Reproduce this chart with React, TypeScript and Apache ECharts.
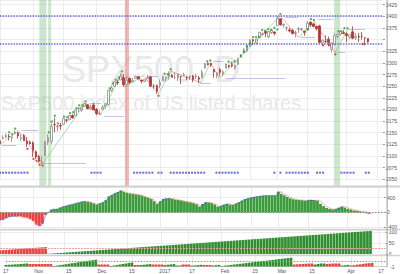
import React, { useEffect, useRef } from 'react';
import * as echarts from 'echarts';

// ---------- data ----------
const HOLIDAYS = ['2016-11-24', '2016-12-26', '2017-01-02', '2017-01-16', '2017-02-20'];
const SLOT_COUNT = 128; // Oct 17 2016 .. Apr 19 2017 (incl. future slots)

// [open, close, low, high]
const ohlc: number[][] = [
  [2132.9, 2126.5, 2124.4, 2135.6], [2138.3, 2139.6, 2135.5, 2144.4], [2140.8, 2144.3, 2138.2, 2148.4],
  [2142.5, 2141.3, 2133.4, 2147.2], [2139.4, 2141.2, 2130.1, 2142.6], [2148.5, 2151.3, 2146.9, 2154.8],
  [2149.7, 2143.2, 2137.4, 2151.4], [2136.9, 2139.4, 2131.6, 2145.7], [2144.1, 2133.0, 2132.5, 2147.1],
  [2132.2, 2126.4, 2119.4, 2140.7], [2129.8, 2126.2, 2125.5, 2133.3],
  [2128.7, 2111.7, 2097.9, 2131.5], [2109.4, 2097.9, 2094.0, 2111.8], [2098.8, 2088.7, 2085.2, 2102.6],
  [2083.8, 2085.2, 2083.8, 2099.1], [2100.6, 2131.5, 2100.6, 2132.0], [2129.9, 2139.6, 2123.6, 2146.9],
  [2131.6, 2163.3, 2125.4, 2170.1], [2167.5, 2167.4, 2151.2, 2182.3], [2162.7, 2164.5, 2152.5, 2165.9],
  [2165.6, 2164.2, 2156.1, 2171.4], [2168.3, 2180.4, 2166.4, 2180.8], [2177.5, 2176.9, 2172.2, 2179.2],
  [2178.6, 2187.1, 2176.6, 2188.1], [2186.9, 2181.9, 2180.4, 2189.9], [2186.4, 2198.2, 2186.4, 2198.7],
  [2201.6, 2202.9, 2194.5, 2204.8], [2198.6, 2204.7, 2194.5, 2204.7], [2206.3, 2213.4, 2206.3, 2213.4],
  [2210.2, 2201.7, 2200.4, 2211.1], [2200.8, 2204.7, 2199.0, 2210.5], [2209.6, 2198.8, 2198.8, 2214.1],
  [2200.2, 2191.1, 2187.4, 2202.6], [2191.1, 2191.9, 2188.4, 2197.9], [2200.6, 2204.7, 2199.0, 2209.4],
  [2207.3, 2212.2, 2202.2, 2212.8], [2210.7, 2241.4, 2208.9, 2241.6], [2241.1, 2246.2, 2237.6, 2251.7],
  [2249.7, 2259.5, 2249.2, 2259.8], [2258.8, 2257.0, 2252.4, 2264.0], [2263.3, 2271.7, 2263.3, 2277.5],
  [2268.4, 2253.3, 2248.4, 2276.2], [2253.8, 2262.0, 2253.8, 2272.1], [2266.8, 2258.1, 2254.2, 2268.1],
  [2259.2, 2262.5, 2258.2, 2267.5], [2266.5, 2270.8, 2266.2, 2272.6], [2270.5, 2265.2, 2265.2, 2271.2],
  [2262.9, 2261.0, 2256.1, 2263.2], [2260.3, 2263.8, 2258.8, 2263.8], [2266.2, 2268.9, 2266.2, 2273.8],
  [2270.2, 2249.9, 2249.1, 2271.3], [2249.5, 2249.3, 2244.6, 2254.5], [2251.6, 2238.8, 2233.6, 2253.6],
  [2251.6, 2257.8, 2245.1, 2263.9], [2261.6, 2270.8, 2261.6, 2272.8], [2268.2, 2269.0, 2260.5, 2271.5],
  [2271.1, 2277.0, 2264.1, 2282.1], [2273.6, 2268.9, 2268.8, 2275.5], [2268.6, 2268.9, 2265.3, 2279.3],
  [2268.5, 2275.3, 2260.8, 2275.3], [2271.1, 2270.4, 2254.3, 2271.8], [2272.7, 2274.6, 2271.5, 2278.7],
  [2269.1, 2267.9, 2262.8, 2272.1], [2269.1, 2271.9, 2263.4, 2272.0], [2271.9, 2263.7, 2258.4, 2274.3],
  [2270.0, 2271.3, 2265.0, 2277.0], [2267.8, 2265.2, 2257.0, 2271.8], [2267.9, 2280.1, 2266.7, 2284.6],
  [2288.9, 2298.4, 2288.9, 2299.6], [2298.6, 2296.7, 2294.1, 2301.0], [2299.0, 2294.7, 2291.6, 2299.0],
  [2286.0, 2280.9, 2268.0, 2286.0], [2274.0, 2278.9, 2267.2, 2279.1],
  [2285.6, 2279.6, 2272.4, 2289.1], [2276.7, 2280.9, 2271.7, 2284.0], [2288.5, 2297.4, 2287.9, 2298.3],
  [2294.3, 2292.6, 2288.6, 2296.2], [2295.9, 2293.1, 2290.2, 2299.4], [2289.6, 2294.7, 2285.4, 2295.9],
  [2296.7, 2307.9, 2296.6, 2311.1], [2312.3, 2316.1, 2311.1, 2319.2], [2321.7, 2328.3, 2321.4, 2331.6],
  [2326.1, 2337.6, 2322.2, 2337.6], [2335.6, 2349.3, 2334.8, 2351.3], [2349.6, 2347.2, 2338.9, 2351.3],
  [2343.0, 2351.2, 2339.6, 2351.2], [2354.9, 2365.4, 2354.9, 2366.7], [2361.1, 2362.8, 2358.3, 2365.1],
  [2367.5, 2363.8, 2355.1, 2368.3], [2355.7, 2367.3, 2352.9, 2367.3], [2365.2, 2369.8, 2361.9, 2371.5],
  [2366.1, 2363.6, 2359.0, 2367.8],
  [2380.1, 2396.0, 2380.1, 2401.0], [2394.8, 2381.9, 2380.2, 2394.8], [2380.9, 2383.1, 2375.4, 2383.9],
  [2375.2, 2375.3, 2368.0, 2378.8], [2370.7, 2368.4, 2365.5, 2375.1], [2369.8, 2363.0, 2361.0, 2373.1],
  [2363.5, 2364.9, 2354.5, 2369.1], [2372.5, 2372.6, 2364.2, 2376.9], [2371.6, 2373.5, 2368.5, 2374.4],
  [2368.6, 2365.5, 2358.2, 2368.6], [2370.3, 2385.3, 2368.9, 2390.0], [2387.7, 2381.4, 2377.2, 2388.1],
  [2383.7, 2378.3, 2377.6, 2385.7], [2378.2, 2373.5, 2369.7, 2379.6], [2379.3, 2344.0, 2341.9, 2381.9],
  [2343.0, 2348.5, 2337.0, 2350.1], [2346.0, 2345.9, 2342.1, 2358.9], [2350.4, 2344.0, 2335.7, 2356.2],
  [2329.1, 2341.6, 2322.3, 2344.9], [2339.8, 2358.6, 2337.6, 2363.8], [2356.5, 2361.1, 2352.9, 2363.4],
  [2361.3, 2368.1, 2358.6, 2370.4], [2364.8, 2362.7, 2362.6, 2370.4],
  [2362.3, 2358.8, 2344.7, 2365.9], [2354.8, 2360.2, 2350.7, 2360.5], [2366.6, 2353.0, 2350.5, 2378.4],
  [2353.8, 2357.5, 2348.9, 2364.2], [2356.6, 2355.5, 2344.7, 2363.8], [2357.2, 2357.1, 2350.0, 2366.4],
  [2353.9, 2353.8, 2337.3, 2355.2], [2352.2, 2344.9, 2343.2, 2352.7],
];

const tickDates = ['2016-10-17', '2016-11-01', '2016-11-15', '2016-12-01', '2016-12-15', '2017-01-03',
  '2017-01-17', '2017-02-01', '2017-02-15', '2017-03-01', '2017-03-15', '2017-04-03', '2017-04-17'];
const tickTexts = ['17', 'Nov', '15', 'Dec', '15', '2017', '17', 'Feb', '15', 'Mar', '15', 'Apr', '17'];

const resistanceLevels = [2401, 2341];

// zigzag swing points
const pivotIdx = [0, 6, 14, 28, 33, 40, 41, 47, 52, 56, 66, 69, 72, 92, 98, 103, 110, 114];
const pivotVal = [2124.4, 2154.8, 2083.8, 2213.4, 2187.4, 2277.5, 2248.4, 2272.6, 2233.6, 2282.1,
  2257.0, 2301.0, 2267.2, 2401.0, 2354.5, 2389.0, 2322.3, 2370.4];

// horizontal swing levels
const levelFrom = [0.5, 7, 14.2, 29.3, 34.2, 48.5, 65.9, 70.1, 74, 93.6, 98.5, 104.4, 110.6, 114.2];
const levelTo = [5.4, 12.6, 28.3, 33.2, 40.7, 51.8, 69.1, 73.4, 93.6, 97.6, 103.4, 109.3, 113.2, 119.8];
const levelVal = [2124, 2155, 2084, 2213, 2185, 2272, 2257, 2303, 2268, 2398, 2355, 2393, 2323, 2372];

const greenDotIdx = [3, 4, 5, 16, 17, 18, 19, 21, 22, 23, 24, 25, 26, 27, 28, 36, 37, 38, 39, 40, 54, 55, 56,
  68, 69, 75, 76, 77, 79, 80, 81, 82, 83, 84, 85, 86, 87, 88, 89, 90, 91, 92, 101, 102, 103, 111, 112, 113, 114];
const redDotIdx = [9, 11, 12, 13, 14, 52, 106, 108, 110, 119];

const markerRanges = [[0, 9], [30, 33], [44, 50], [52, 53], [56, 67], [71, 78], [90, 90], [92, 92],
  [94, 101], [104, 106], [112, 116], [120, 121]];

const bandFrom = [12.9, 15.8, 41.0, 109.6];
const bandTo = [15.2, 16.8, 42.3, 111.6];
const bandKind = ['up', 'up', 'down', 'up'];

const osc = [-200, -190, -150, -115, -105, -100, -99, -110, -130, -141, -180, -231, -328, -365, -300, -60,
  10, 75, 88, 99, 130, 160, 180, 205, 220, 245, 265, 285, 300, 290, 272, 245, 215, 240, 272, 330,
  430, 470, 515, 550, 587, 555, 524, 510, 498, 485, 473, 450, 420, 395, 360, 300, 231, 300, 364, 372,
  382, 365, 345, 335, 322, 300, 285, 270, 250, 220, 160, 230, 275, 270, 250, 215, 160, 175, 210, 231,
  215, 204, 240, 275, 320, 360, 380, 405, 415, 430, 440, 450, 453, 453, 453, 455, 560, 500, 460, 420,
  380, 355, 342, 335, 328, 320, 330, 338, 335, 320, 231, 170, 120, 95, 82, 95, 130, 160, 130, 98,
  80, 55, 45, 35, 15, -20, -35];

const counterDown = [17, 18, 19, 20, 21, 22, 23, 24, 25, 26, 27, 28, 29, 30, 31, 32];
const counterUp = [1, 2, 3, 4, 5, 6, 7, 8, 9, 10, 11, 12, 13, 14, 15, 16, 17, 18, 19, 20, 21, 22, 23, 24, 25,
  26, 27, 28, 29, 30, 31, 32, 33, 34, 35, 36, 37, 38, 39, 40, 41, 42, 43, 44, 45, 46, 47, 48, 49, 50,
  51, 52, 53, 54, 55, 56, 57, 58, 59, 60, 61, 62, 63, 64, 65, 66, 67, 68, 69, 70, 71, 72, 73, 74, 75,
  76, 77, 78, 79, 80, 81, 82, 83, 84, 85, 86, 87, 88, 89, 90, 91, 92, 93, 94, 95, 96, 97, 98, 99, 100,
  101, 102, 103, 104, 105, 106, 107];
const counterLevel = 25;

const regime = [0.15, 0.17, 0.19, 0.21, 0.23, 0.25, 0.27, 0.3,
  -0.25, -0.25, -0.25, -0.25, -0.25, -0.25, -0.25, -0.25,
  0.05, 0.09, 0.14, 0.18, 0.23, 0.27, 0.32, 0.36, 0.41, 0.45, 0.5, 0.54, 0.59, 0.63, 0.68,
  -0.2, -0.2, -0.2, -0.2, 0.05, 0.1, 0.15, 0.2, 0.25, 0.3, 0.35, 0.4, -0.15, -0.15,
  0.15, 0.18, 0.21, 0.24, -0.2, -0.2, -0.2, -0.2, 0.15, 0.18, 0.21, 0.24, 0.1, 0.1,
  -0.2, -0.2, -0.2, 0.08, 0.11, 0.14, 0.17, -0.15, -0.15, -0.15, 0.1, 0.13, 0.16,
  0.05, 0.09, 0.12, 0.16, 0.2, 0.23, 0.27, 0.3, 0.34, 0.38, 0.41, 0.45, 0.48, 0.52, 0.56, 0.59,
  0.63, 0.66, 0.7, 0.74, 0.77, 0.81, 0.84, 0.88,
  -0.2, -0.22, -0.24, -0.26, -0.28, -0.3, -0.3, 0.2, 0.25, 0.3, 0.3, -0.25, -0.28, -0.3, -0.3, -0.3,
  0.1, 0.13, 0.16, -0.1, -0.14, -0.18, -0.22, -0.26, -0.3, -0.33, -0.36];
const regimeLevel = 0.55;
const regimeAxisText = '-1';

// ---------- style constants ----------
const GL = -1.53;
const GR = 12.9;
const DOT_GAP = 4;
const MARKER_ROW = 0.0715;
const FONT = 'Liberation Sans';
const UP_GREEN = '#3c9c3c';
const DOWN_RED = '#ef4040';

function buildDates(): string[] {
  const out: string[] = [];
  const d = new Date(Date.UTC(2016, 9, 17));
  while (out.length < SLOT_COUNT) {
    const wd = d.getUTCDay();
    const s = d.toISOString().slice(0, 10);
    if (wd !== 0 && wd !== 6 && !HOLIDAYS.includes(s)) out.push(s);
    d.setUTCDate(d.getUTCDate() + 1);
  }
  return out;
}

function buildOption() {
  const dates = buildDates();
  const tickSet = new Set(tickDates);
  const tickMap: Record<string, string> = {};
  tickDates.forEach((d, i) => (tickMap[d] = tickTexts[i]));
  const showTick = (_i: number, v: string) => tickSet.has(v);
  const lastClose = ohlc[ohlc.length - 1][1];

  const zig = pivotIdx.slice(1).map((idx, k) => {
    const a = pivotVal[k];
    const b = pivotVal[k + 1];
    return {
      coords: [[pivotIdx[k], a], [idx, b]],
      lineStyle: { color: b > a ? '#4caf50' : '#e0504a' },
    };
  });
  const levels = levelVal.map((v, k) => ({ coords: [[levelFrom[k], v], [levelTo[k], v]] }));
  const greenDots = greenDotIdx.map((i) => [i, ohlc[i][3] + DOT_GAP]);
  const redDots = redDotIdx.map((i) => [i, ohlc[i][2] - DOT_GAP]);
  const markers: number[][] = [];
  markerRanges.forEach(([a, b]) => {
    for (let i = a; i <= b; i++) markers.push([i, MARKER_ROW]);
  });
  const bands = bandFrom.map((f, k) => [
    { xAxis: f, itemStyle: { color: bandKind[k] === 'up' ? 'rgba(140,200,140,0.45)' : 'rgba(240,130,130,0.6)' } },
    { xAxis: bandTo[k] },
  ]);
  const oscSeg = osc.slice(1).map((v, k) => ({
    coords: [[k, osc[k]], [k + 1, v]],
    lineStyle: { color: v >= osc[k] ? '#3a5fd0' : '#f08a7a' },
  }));
  const cDown = dates.map((_, i) => (i < counterDown.length ? counterDown[i] : '-'));
  const cUp = dates.map((_, i) =>
    i >= counterDown.length && i - counterDown.length < counterUp.length ? counterUp[i - counterDown.length] : '-');
  const rUp = regime.map((v) => (v > 0 ? v : '-'));
  const rDn = regime.map((v) => (v < 0 ? -v : '-'));

  const catAxis = (gridIndex: number, labels: boolean) => ({
    type: 'category',
    gridIndex,
    data: dates,
    boundaryGap: false,
    axisLine: { show: labels, lineStyle: { color: '#cfcfcf' } },
    axisTick: { show: false },
    axisLabel: labels
      ? { show: true, interval: showTick, formatter: (v: string) => tickMap[v] ?? '', fontSize: 5, color: '#555', margin: 2, fontFamily: FONT }
      : { show: false },
    splitLine: { show: true, interval: showTick, lineStyle: { color: '#ececec', width: 1 } },
  });
  const valX = (gridIndex: number) => ({ type: 'value', gridIndex, min: 0, max: SLOT_COUNT - 1, show: false });
  const rightAxis = (gridIndex: number, min: number, max: number, interval: number, fmt?: (v: number) => string) => ({
    type: 'value',
    gridIndex,
    position: 'right',
    min,
    max,
    interval,
    axisLine: { show: false },
    axisTick: { show: true, length: 2, lineStyle: { color: '#999' } },
    axisLabel: { fontSize: 5, color: '#555', margin: 3, showMaxLabel: false, fontFamily: FONT, formatter: fmt },
    splitLine: { show: true, lineStyle: { color: '#ececec', width: 1 } },
  });

  return {
    animation: false,
    backgroundColor: '#ffffff',
    textStyle: { fontFamily: FONT },
    grid: [
      { left: GL, right: GR, top: 0, height: 179.3 },
      { left: GL, right: GR, top: 0, height: 179.3 },
      { left: GL, right: GR, top: 0, height: 186 },
      { left: GL, right: GR, top: 187.5, height: 39.9 },
      { left: GL, right: GR, top: 230.5, height: 23.5 },
      { left: GL, right: GR, top: 256.5, height: 10 },
      { left: GL, right: GR, top: 187.5, height: 39.9 },
    ],
    xAxis: [catAxis(0, false), valX(1), valX(2), catAxis(3, false), catAxis(4, false), catAxis(5, true), valX(6)],
    yAxis: [
      rightAxis(0, 2050, 2435, 25, (v: number) => (Math.abs(v - lastClose) < 8 ? '' : String(v))),
      { type: 'value', gridIndex: 1, min: 2050, max: 2435, show: false },
      { type: 'value', gridIndex: 2, min: 0, max: 1, show: false },
      rightAxis(3, -400, 670, 400),
      rightAxis(4, 0, 109, 50),
      {
        type: 'value', gridIndex: 5, position: 'right', min: 0, max: 1, interval: 1,
        axisLabel: { fontSize: 5, color: '#555', margin: 3, fontFamily: FONT, showMaxLabel: false, formatter: (v: number) => (v === 0 ? regimeAxisText : '') },
        axisTick: { show: false }, axisLine: { show: false }, splitLine: { show: false },
      },
      { type: 'value', gridIndex: 6, min: -400, max: 670, show: false },
    ],
    graphic: [
      { type: 'text', x: 62, y: 51, z: 0, silent: true, style: { text: 'SPX500, D', fontSize: 36, fontFamily: FONT, fill: '#e8e8e8', verticalAlign: 'top' } },
      { type: 'text', x: 1, y: 93, z: 0, silent: true, style: { text: 'S&P500 index of US listed shares', fontSize: 20, fontFamily: FONT, fill: '#e8e8e8', verticalAlign: 'top' } },
      { type: 'rect', z: 20, silent: true, shape: { x: 0, y: 185.5, width: 400, height: 2 }, style: { fill: '#d2d2d2' } },
      { type: 'rect', z: 20, silent: true, shape: { x: 0, y: 228.8, width: 400, height: 1.5 }, style: { fill: '#d2d2d2' } },
      { type: 'rect', z: 20, silent: true, shape: { x: 0, y: 254.8, width: 400, height: 1.5 }, style: { fill: '#d2d2d2' } },
      { type: 'line', z: 21, silent: true, shape: { x1: 387.1, y1: 0, x2: 387.1, y2: 267 }, style: { stroke: '#9a9a9a', lineWidth: 1 } },
    ],
    series: [
      {
        type: 'scatter', xAxisIndex: 2, yAxisIndex: 2, z: 1, silent: true,
        symbol: 'rect', symbolSize: [2, 2], itemStyle: { color: '#4646d2' },
        data: markers,
        markArea: { silent: true, data: bands },
      },
      {
        type: 'candlestick', xAxisIndex: 0, yAxisIndex: 0, z: 3, barWidth: 2,
        data: ohlc,
        itemStyle: { color: '#ffffff', color0: '#b8312f', borderColor: '#8a8a8a', borderColor0: '#b8312f', borderWidth: 0.8 },
        markLine: {
          silent: true, symbol: 'none', animation: false,
          label: { show: false },
          data: [
            ...resistanceLevels.map((v) => ({ yAxis: v, lineStyle: { color: '#5a5ae8', width: 1.5, type: [1.5, 1.2], opacity: 0.9 } })),
            {
              yAxis: lastClose,
              lineStyle: { opacity: 0 },
              label: {
                show: true, position: 'end', distance: 0, formatter: () => String(Math.round(lastClose)),
                backgroundColor: '#d6403a', color: '#ffffff', fontSize: 5, padding: [1.5, 2], fontFamily: FONT,
              },
            },
          ],
        },
      },
      {
        type: 'lines', coordinateSystem: 'cartesian2d', xAxisIndex: 1, yAxisIndex: 1, z: 4, silent: true,
        lineStyle: { width: 1, color: '#8888cc' }, data: levels,
      },
      {
        type: 'lines', coordinateSystem: 'cartesian2d', xAxisIndex: 1, yAxisIndex: 1, z: 4, silent: true,
        lineStyle: { width: 0.9 }, data: zig,
      },
      {
        type: 'scatter', xAxisIndex: 1, yAxisIndex: 1, z: 5, silent: true, symbolSize: 2.4,
        itemStyle: { color: '#3a9a3a' }, data: greenDots,
      },
      {
        type: 'scatter', xAxisIndex: 1, yAxisIndex: 1, z: 5, silent: true, symbolSize: 2.4,
        itemStyle: { color: '#e03030' }, data: redDots,
      },
      {
        type: 'bar', xAxisIndex: 3, yAxisIndex: 3, barCategoryGap: '8%', silent: true,
        data: osc.map((v) => ({ value: v, itemStyle: { color: v >= 0 ? UP_GREEN : DOWN_RED } })),
        markLine: {
          silent: true, symbol: 'none', label: { show: false },
          lineStyle: { color: '#888', type: [1.5, 1.5], width: 1 },
          data: [{ yAxis: 0 }],
        },
      },
      {
        type: 'lines', coordinateSystem: 'cartesian2d', xAxisIndex: 6, yAxisIndex: 6, z: 4, silent: true,
        lineStyle: { width: 1.2 }, data: oscSeg,
      },
      {
        type: 'bar', xAxisIndex: 4, yAxisIndex: 4, stack: 'cnt', barCategoryGap: '12%', silent: true,
        itemStyle: { color: DOWN_RED }, data: cDown,
        markLine: {
          silent: true, symbol: 'none', label: { show: false },
          lineStyle: { color: '#f2a0a0', type: [2, 1], width: 1 },
          data: [{ yAxis: counterLevel }],
        },
      },
      {
        type: 'bar', xAxisIndex: 4, yAxisIndex: 4, stack: 'cnt', barCategoryGap: '12%', silent: true,
        itemStyle: { color: '#2f8f2f' }, data: cUp,
      },
      {
        type: 'bar', xAxisIndex: 5, yAxisIndex: 5, stack: 'reg', barCategoryGap: '10%', silent: true,
        itemStyle: { color: '#2f8f2f' }, data: rUp,
        markLine: {
          silent: true, symbol: 'none', label: { show: false },
          lineStyle: { color: '#f07070', type: [1.5, 1.5], width: 1 },
          data: [{ yAxis: regimeLevel }],
        },
      },
      {
        type: 'bar', xAxisIndex: 5, yAxisIndex: 5, stack: 'reg', barCategoryGap: '10%', silent: true,
        itemStyle: { color: DOWN_RED }, data: rDn,
      },
    ],
  };
}

export default function App() {
  const ref = useRef<HTMLDivElement>(null);
  useEffect(() => {
    if (!ref.current) return;
    const chart = echarts.init(ref.current, undefined, { renderer: 'svg' });
    chart.setOption(buildOption() as any);
    return () => chart.dispose();
  }, []);
  return <div ref={ref} style={{ position: 'fixed', left: 0, top: 0, width: 400, height: 274 }} />;
}
